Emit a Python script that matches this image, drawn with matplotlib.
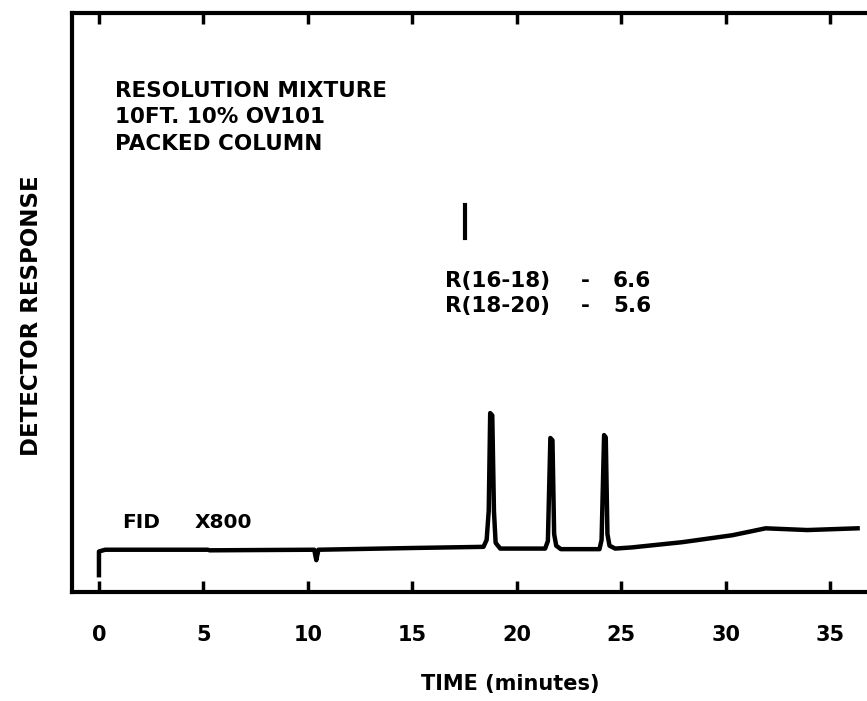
import numpy as np
import matplotlib
matplotlib.use("Agg")
import matplotlib.pyplot as plt

# chromatogram trace (time in minutes, response in arbitrary units)
time_pts = [0.0, 0.0, 0.3, 5.2, 5.3, 10.3, 10.4, 10.5, 15.0, 18.4, 18.55,
            18.65, 18.72, 18.82, 18.9, 18.98, 19.2, 21.35, 21.48, 21.6, 21.7,
            21.78, 21.88, 22.1, 23.95, 24.05, 24.17, 24.25, 24.33, 24.43,
            24.7, 25.5, 27.9, 30.3, 31.9, 33.9, 36.3]
response_pts = [2.9, 7.0, 7.3, 7.3, 7.2, 7.3, 5.5, 7.3, 7.6, 7.8, 9.0,
                14.0, 30.9, 30.5, 14.0, 8.5, 7.5, 7.5, 8.8, 26.6, 26.2,
                10.0, 8.0, 7.4, 7.4, 9.0, 27.1, 26.7, 10.0, 8.0,
                7.5, 7.7, 8.6, 9.8, 11.0, 10.7, 11.0]

x_ticks = [0, 5, 10, 15, 20, 25, 30, 35]
x_tick_labels = ["0", "5", "10", "15", "20", "25", "30", "35"]
column_info = ["RESOLUTION MIXTURE", "10FT. 10% OV101", "PACKED COLUMN"]
pair_names = ["R(16-18)", "R(18-20)"]
pair_values = ["6.6", "5.6"]

W, H = 867, 701
fig = plt.figure(figsize=(W / 100, H / 100), dpi=100)
ax = fig.add_axes([72 / W, (H - 592) / H, 1 - 72 / W, (592 - 13) / H])

ax.plot(time_pts, response_pts, color="black", lw=3.2, solid_joinstyle="round")

ax.set_xlim(-1.29, 36.75)
ax.set_ylim(0, 100)

for side in ["left", "top", "bottom"]:
    ax.spines[side].set_linewidth(3)
ax.spines["right"].set_visible(False)

ax.set_xticks(x_ticks)
ax.set_xticklabels(x_tick_labels, fontsize=15, fontweight="bold")
ax.tick_params(axis="x", direction="in", length=8, width=2.5, top=True, pad=24)
ax.set_yticks([])

ax.set_xlabel("TIME (minutes)", fontsize=15, fontweight="bold")
ax.xaxis.set_label_coords(0.551, -0.142)
ax.set_ylabel("DETECTOR RESPONSE", fontsize=16.5, fontweight="bold")
ax.yaxis.set_label_coords(-0.036, 0.478)

# column description, one line at a time
for i, line in enumerate(column_info):
    ax.text(0.77, 85.5 - 4.55 * i, line, fontsize=15.5, fontweight="bold",
            va="baseline", ha="left")

# resolution values
for i, (name, val) in enumerate(zip(pair_names, pair_values)):
    y = 52.7 - 4.4 * i
    ax.text(16.56, y, name, fontsize=15.5, fontweight="bold", va="baseline", ha="left")
    ax.text(23.25, y, "-", fontsize=15.5, fontweight="bold", va="baseline", ha="center")
    ax.text(24.6, y, val, fontsize=15.5, fontweight="bold", va="baseline", ha="left")
ax.plot([17.5, 17.5], [61.1, 66.8], color="black", lw=3)

ax.text(1.1, 11.05, "FID", fontsize=14.5, fontweight="bold", va="baseline", ha="left")
ax.text(4.6, 11.05, "X800", fontsize=14.5, fontweight="bold", va="baseline", ha="left")

fig.savefig("out.png", dpi=100)
